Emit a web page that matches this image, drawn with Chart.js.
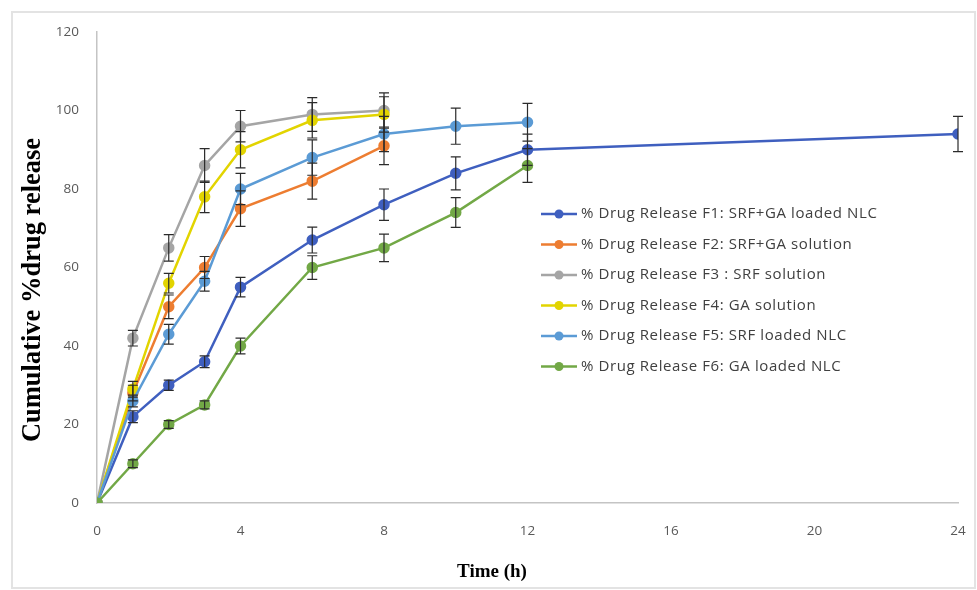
<!DOCTYPE html>
<html>
<head>
<meta charset="utf-8">
<script src="https://cdn.jsdelivr.net/npm/chart.js@4.4.1/dist/chart.umd.min.js"></script>
<style>
  html,body{margin:0;padding:0;background:#fff;}
  #wrap{width:977px;height:590px;position:relative;}
</style>
</head>
<body>
<div id="wrap"><canvas id="c" width="977" height="590"></canvas></div>
<script>
// ---- data ----
const timeF1 = [0, 1, 2, 3, 4, 6, 8, 10, 12, 24];
const timeF2 = [0, 1, 2, 3, 4, 6, 8];
const timeF3 = [0, 1, 2, 3, 4, 6, 8];
const timeF4 = [0, 1, 2, 3, 4, 6, 8];
const timeF5 = [0, 1, 2, 3, 4, 6, 8, 10, 12];
const timeF6 = [0, 1, 2, 3, 4, 6, 8, 10, 12];

const releaseF1 = [0, 22, 30, 36, 55, 67, 76, 84, 90, 94];
const releaseF2 = [0, 28, 50, 60, 75, 82, 91];
const releaseF3 = [0, 42, 65, 86, 96, 99, 100];
const releaseF4 = [0, 29, 56, 78, 90, 97.5, 99];
const releaseF5 = [0, 26, 43, 56.5, 80, 88, 94, 96, 97];
const releaseF6 = [0, 10, 20, 25, 40, 60, 65, 74, 86];

const errorF1 = [0, 1.5, 1.3, 1.5, 2.5, 3.3, 4, 4.2, 4, 4.5];
const errorF2 = [0, 2, 3, 2.8, 4.5, 4.6, 4.8];
const errorF3 = [0, 2, 3.4, 4.3, 4, 4.3, 4.5];
const errorF4 = [0, 2, 2.5, 4, 4.6, 4.5, 4.5];
const errorF5 = [0, 1.5, 2.5, 2.5, 4, 4.5, 4.5, 4.6, 4.8];
const errorF6 = [0, 1, 1, 1, 2, 3, 3.5, 3.8, 4.3];

const seriesLabels = [
  '% Drug Release F1: SRF+GA loaded NLC',
  '% Drug Release F2: SRF+GA solution',
  '% Drug Release F3 : SRF solution',
  '% Drug Release F4: GA solution',
  '% Drug Release F5: SRF loaded NLC',
  '% Drug Release F6: GA loaded NLC'
];
const xTickValues = [0, 4, 8, 12, 16, 20, 24];
const yTickValues = [0, 20, 40, 60, 80, 100, 120];
const xTitle = 'Time (h)';
const yTitle = 'Cumulative %drug release';

const colors = ['#3F5FBF', '#ED7D31', '#A5A5A5', '#E2D400', '#5B9BD5', '#72A846'];

const times = [timeF1, timeF2, timeF3, timeF4, timeF5, timeF6];
const releases = [releaseF1, releaseF2, releaseF3, releaseF4, releaseF5, releaseF6];
const errors = [errorF1, errorF2, errorF3, errorF4, errorF5, errorF6];

const datasets = seriesLabels.map((lab, i) => ({
  label: lab,
  data: times[i].map((t, j) => ({x: t, y: releases[i][j]})),
  errors: errors[i],
  borderColor: colors[i],
  backgroundColor: colors[i],
  pointBackgroundColor: colors[i],
  pointBorderColor: colors[i],
  borderWidth: 2.5,
  pointRadius: 4.5,
  pointHoverRadius: 4.5,
  tension: 0,
  order: 6 - i
}));

const errorBarPlugin = {
  id: 'errorBars',
  afterDatasetsDraw(chart) {
    const ctx = chart.ctx;
    const xs = chart.scales.x, ys = chart.scales.y;
    ctx.save();
    ctx.strokeStyle = '#2b2b2b';
    ctx.lineWidth = 1.2;
    chart.data.datasets.forEach(ds => {
      ds.data.forEach((p, j) => {
        const e = ds.errors[j];
        if (!e) return;
        const px = xs.getPixelForValue(p.x);
        const top = ys.getPixelForValue(p.y + e);
        const bot = ys.getPixelForValue(p.y - e);
        ctx.beginPath();
        ctx.moveTo(px, top); ctx.lineTo(px, bot);
        ctx.moveTo(px - 5, top); ctx.lineTo(px + 5, top);
        ctx.moveTo(px - 5, bot); ctx.lineTo(px + 5, bot);
        ctx.stroke();
      });
    });
    ctx.restore();
  }
};

const decorPlugin = {
  id: 'decor',
  beforeDraw(chart) {
    const ctx = chart.ctx;
    ctx.save();
    ctx.fillStyle = '#ffffff';
    ctx.fillRect(0, 0, chart.width, chart.height);
    ctx.strokeStyle = '#e3e3e3';
    ctx.lineWidth = 2;
    ctx.strokeRect(12, 12, chart.width - 14, chart.height - 14);
    ctx.restore();
  },
  afterDraw(chart) {
    const ctx = chart.ctx;
    ctx.save();
    // axis titles
    ctx.fillStyle = '#000000';
    ctx.font = 'bold 19px "Liberation Serif"';
    ctx.textAlign = 'center';
    ctx.textBaseline = 'middle';
    ctx.fillText(xTitle, 492, 572);
    ctx.translate(33, 290);
    ctx.rotate(-Math.PI / 2);
    ctx.font = 'bold 26.5px "Liberation Serif"';
    ctx.fillText(yTitle, 0, 0);
    ctx.restore();

    // legend
    ctx.save();
    ctx.font = '15px "Open Sans"';
    try { ctx.letterSpacing = '0.6px'; } catch (e) {}
    ctx.textAlign = 'left';
    ctx.textBaseline = 'middle';
    chart.data.datasets.forEach((ds, i) => {
      const y = 214 + i * 30.5;
      ctx.strokeStyle = ds.borderColor;
      ctx.lineWidth = 2.5;
      ctx.beginPath();
      ctx.moveTo(541, y); ctx.lineTo(577, y);
      ctx.stroke();
      ctx.fillStyle = ds.borderColor;
      ctx.beginPath();
      ctx.arc(559, y, 4.5, 0, Math.PI * 2);
      ctx.fill();
      ctx.fillStyle = '#404040';
      ctx.fillText(ds.label, 581, y);
    });
    ctx.restore();
  }
};

new Chart(document.getElementById('c'), {
  type: 'line',
  data: { datasets },
  options: {
    responsive: false,
    animation: false,
    layout: { padding: { top: 32, right: 19, bottom: 0, left: 0 } },
    plugins: { legend: { display: false }, tooltip: { enabled: false } },
    scales: {
      x: {
        type: 'linear',
        min: 0, max: 24,
        afterFit(s) { s.height = 87; s.paddingLeft = 0; s.paddingRight = 0; },
        afterBuildTicks(s) { s.ticks = xTickValues.map(v => ({value: v})); },
        grid: { display: false, drawTicks: false },
        border: { display: true, color: '#c4c4c4', width: 1.5 },
        ticks: { color: '#595959', font: { family: 'Open Sans', size: 13.5 }, padding: 20, maxRotation: 0, autoSkip: false }
      },
      y: {
        min: 0, max: 120,
        afterFit(s) { s.width = 97; s.paddingTop = 0; s.paddingBottom = 0; },
        afterBuildTicks(s) { s.ticks = yTickValues.map(v => ({value: v})); },
        grid: { display: false, drawTicks: false },
        border: { display: true, color: '#c4c4c4', width: 1.5 },
        ticks: { color: '#595959', font: { family: 'Open Sans', size: 13.5 }, padding: 18 }
      }
    }
  },
  plugins: [errorBarPlugin, decorPlugin]
});
</script>
</body>
</html>
